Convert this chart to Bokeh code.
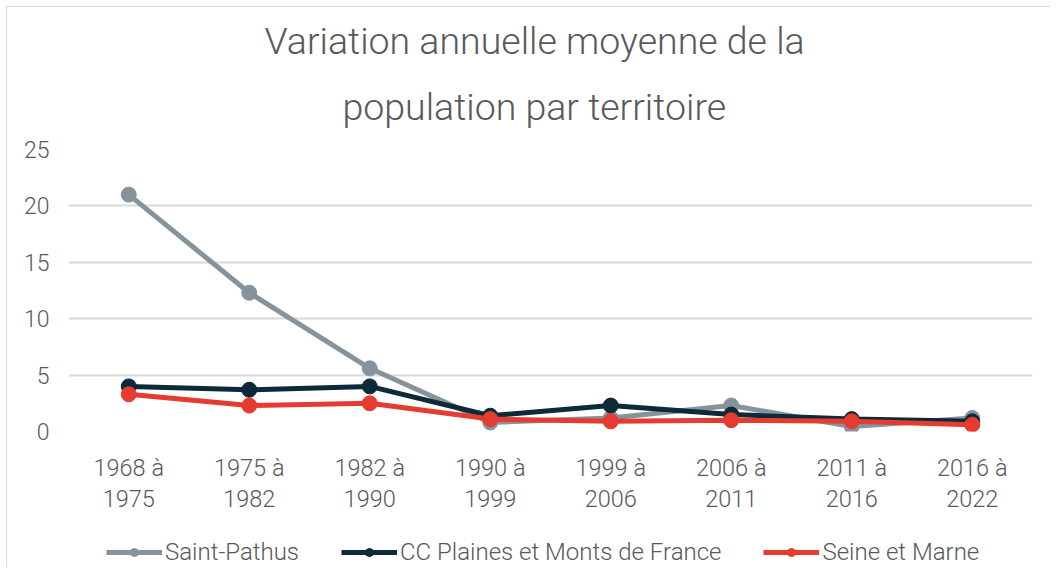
from bokeh.plotting import figure
from bokeh.layouts import column
from bokeh.models import Range1d, FactorRange, Legend, LegendItem, Title, CategoricalAxis
from bokeh.embed import file_html
from bokeh.resources import INLINE

period_start = ["1968 à", "1975 à", "1982 à", "1990 à", "1999 à", "2006 à", "2011 à", "2016 à"]
period_end = ["1975", "1982", "1990", "1999", "2006", "2011", "2016", "2022"]
saint_pathus = [21.0, 12.3, 5.6, 0.8, 1.2, 2.3, 0.45, 1.2]
cc_pmf = [4.0, 3.7, 4.0, 1.4, 2.3, 1.5, 1.1, 0.9]
seine_marne = [3.3, 2.3, 2.5, 1.1, 0.9, 1.0, 0.9, 0.6]

series = [
    ("Saint-Pathus", saint_pathus, "#85949c"),
    ("CC Plaines et Monts de France", cc_pmf, "#0c2a38"),
    ("Seine et Marne", seine_marne, "#e53b30"),
]

FONT = "Roboto Light"
TXT = "#595959"

p = figure(frame_width=964, frame_height=282,
           x_range=FactorRange(*period_start, range_padding=0),
           y_range=Range1d(0, 25), output_backend="svg", toolbar_location=None,
           min_border_left=61, min_border_right=18, min_border_top=142, min_border_bottom=80)
p.extra_x_ranges = {"end": FactorRange(*period_end, range_padding=0)}
p.outline_line_color = None
p.background_fill_color = "white"
p.border_fill_color = "white"

for txt, sb, off in [("population par territoire", 41, 274), ("Variation annuelle moyenne de la", 0, 196)]:
    p.add_layout(Title(text=txt, align="left", text_font=FONT, text_font_size="37.5px",
                       text_color=TXT, text_font_style="normal", offset=off, standoff=sb), "above")

p.xgrid.grid_line_color = None
p.ygrid.grid_line_color = "#d9d9d9"
p.ygrid.grid_line_width = 2
p.yaxis.ticker = [0, 5, 10, 15, 20, 25]
p.yaxis.axis_line_color = None
p.yaxis.major_tick_line_color = None
p.yaxis.minor_tick_line_color = None
p.yaxis.major_label_text_font = FONT
p.yaxis.major_label_text_font_size = "23px"
p.yaxis.major_label_text_color = TXT
p.yaxis.major_label_standoff = 13


def style_xaxis(ax, standoff):
    ax.axis_line_color = None
    ax.major_tick_line_color = None
    ax.major_label_text_font = FONT
    ax.major_label_text_font_size = "23.5px"
    ax.major_label_text_color = TXT
    ax.major_label_standoff = standoff


style_xaxis(p.xaxis[0], 16)
ax2 = CategoricalAxis(x_range_name="end")
style_xaxis(ax2, -1)
p.add_layout(ax2, "below")

for name, vals, col in series:
    p.line(period_start, vals, line_color=col, line_width=5)
    p.scatter(period_start, vals, size=15, fill_color=col, line_color=col)

# legend strip below the chart (series drawn out of view; only the legend shows)
p2 = figure(width=1043, height=56, x_range=FactorRange(*period_start), y_range=Range1d(100, 101),
            output_backend="svg", toolbar_location=None, min_border=0,
            x_axis_location=None, y_axis_location=None)
p2.grid.visible = False
p2.outline_line_color = None
items = []
for name, vals, col in series:
    l = p2.line(period_start, vals, line_color=col, line_width=5)
    c = p2.scatter(period_start, vals, size=15, fill_color=col, line_color=col)
    items.append(LegendItem(label=name, renderers=[l, c]))
legend = Legend(items=items, orientation="horizontal", location=(38, 1),
                label_text_font=FONT, label_text_font_size="24px", label_text_color=TXT,
                glyph_width=56, label_standoff=3, spacing=42, border_line_color=None,
                background_fill_alpha=0, margin=0, padding=4)
p2.add_layout(legend, "center")

layout = column(p, p2, spacing=0,
                styles={"margin-left": "6px", "margin-top": "6px",
                        "border-left": "1px solid #d9d9d9", "border-top": "1px solid #d9d9d9"})

open("out.html", "w").write(file_html(layout, INLINE))
